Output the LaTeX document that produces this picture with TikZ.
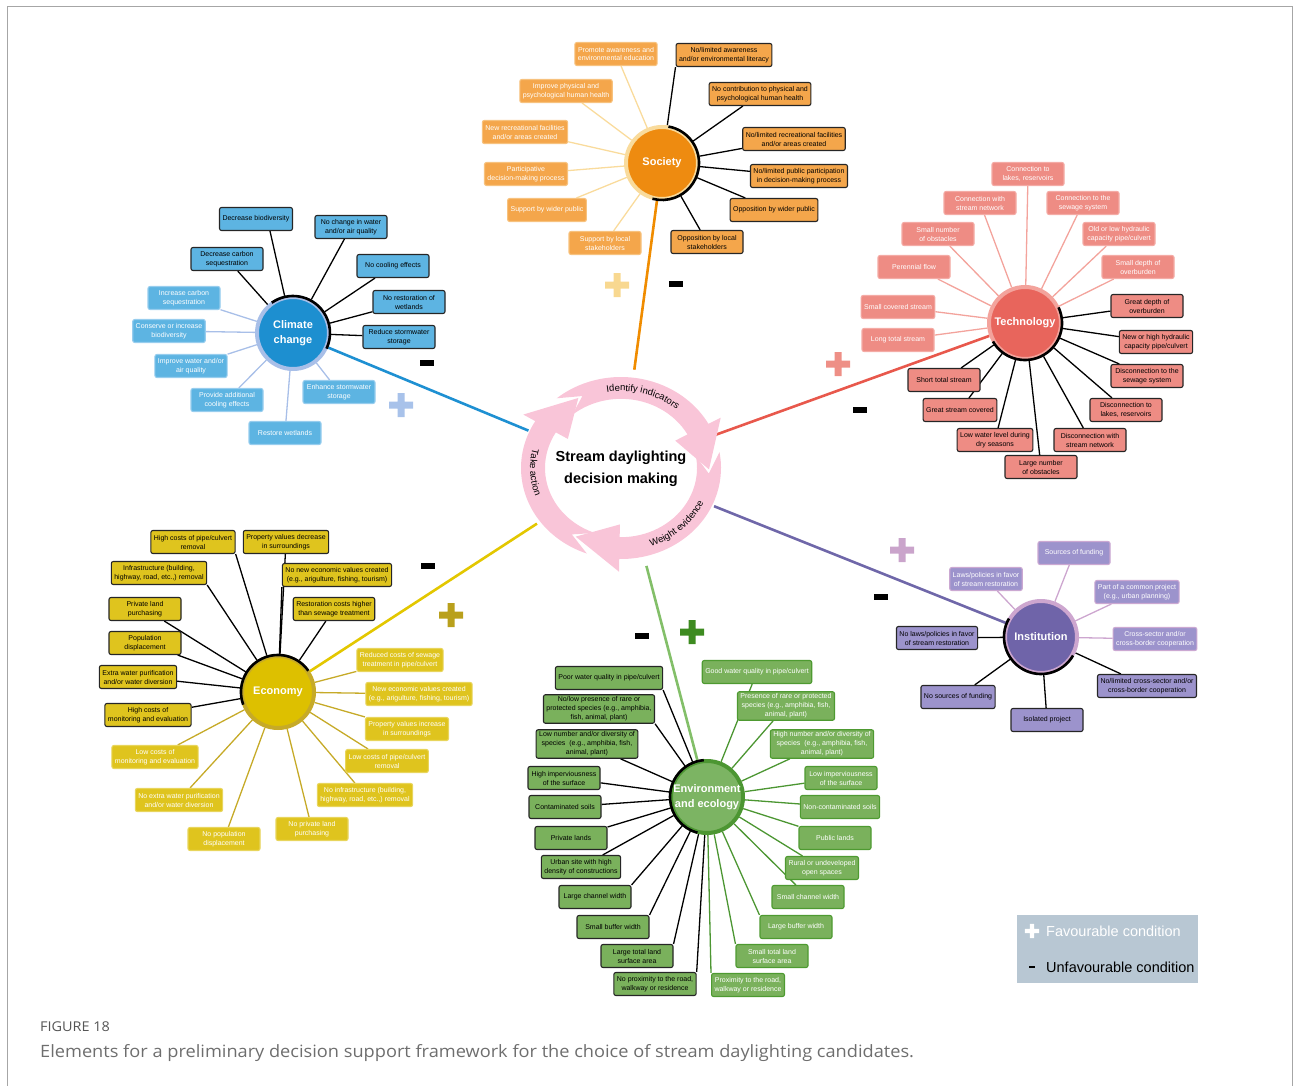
\documentclass[tikz,border=0pt]{standalone}
\usepackage{fontspec}
\setmainfont{Liberation Sans}
\newfontfamily\figcapfont[FakeStretch=1.07]{Open Sans}
\usetikzlibrary{decorations.text, backgrounds}

\definecolor{socHub}{HTML}{EE8B10}\definecolor{socBox}{HTML}{F4A64B}\definecolor{socEdge}{HTML}{F7C27E}
\definecolor{socRing}{HTML}{F9DB9C}\definecolor{socLink}{HTML}{F08C00}\definecolor{socPlus}{HTML}{F8D890}
\definecolor{cliHub}{HTML}{1D8FD0}\definecolor{cliBox}{HTML}{5DB4E2}\definecolor{cliEdge}{HTML}{97CDEE}
\definecolor{cliRing}{HTML}{A8BFE8}\definecolor{cliLink}{HTML}{1E90D2}\definecolor{cliPlus}{HTML}{A8C2EA}
\definecolor{tecHub}{HTML}{E8655C}\definecolor{tecBox}{HTML}{EE8C84}\definecolor{tecEdge}{HTML}{F4ABA5}
\definecolor{tecRing}{HTML}{F3A39C}\definecolor{tecLink}{HTML}{E8584C}\definecolor{tecPlus}{HTML}{EE8F86}
\definecolor{ecoHub}{HTML}{DDC000}\definecolor{ecoBox}{HTML}{DFC41E}\definecolor{ecoEdge}{HTML}{E8D55C}
\definecolor{ecoRing}{HTML}{C6AA28}\definecolor{ecoLink}{HTML}{E3C700}\definecolor{ecoPlus}{HTML}{B9A01C}
\definecolor{envHub}{HTML}{7CB463}\definecolor{envBox}{HTML}{7AB15C}\definecolor{envEdge}{HTML}{4E9A31}
\definecolor{envRing}{HTML}{4C9632}\definecolor{envLink}{HTML}{83BF69}\definecolor{envPlus}{HTML}{3D8B20}
\definecolor{insHub}{HTML}{6F64A9}\definecolor{insBox}{HTML}{9C93CC}\definecolor{insEdge}{HTML}{CBA8D2}
\definecolor{insRing}{HTML}{CDA6CF}\definecolor{insLink}{HTML}{6F67A9}\definecolor{insPlus}{HTML}{CAA4CB}
\definecolor{cyclePink}{HTML}{F9C5D8}
\definecolor{legendFill}{HTML}{B8C7D3}
\definecolor{capGrey}{HTML}{555555}

\begin{document}
\begin{tikzpicture}[x=1pt,y=1pt,
  itembox/.style={rectangle, rounded corners=2pt, line width=1.1pt, minimum width=72pt, minimum height=23pt,
    inner xsep=3pt, inner ysep=2pt, align=center, font=\fontsize{7}{9}\selectfont},
  favbox/.style={itembox, fill=#1Box, draw=#1Edge, text=white},
  unfavbox/.style={itembox, fill=#1Box, draw=black!85, text=black},
  hub/.style={circle, fill=#1Hub, draw=#1Ring, line width=4pt, minimum size=72pt, inner sep=0pt,
    align=center, text=white, font=\bfseries\fontsize{11}{15}\selectfont},
  favline/.style={draw=#1Ring, line width=1.3pt},
  unfavline/.style={draw=black, line width=1.3pt},
  negarc/.style={draw=black, line width=2.6pt},
  mainlink/.style={draw=#1Link, line width=2.6pt},
  cycletext/.style={decorate, decoration={text along path, text align=center, text={|\fontsize{9.5}{10}\selectfont|#1}}},
  plussign/.pic={\fill (-12,-3.5) rectangle (12,3.5) (-3.5,-12) rectangle (3.5,12);},
  minussign/.pic={\fill (-7,-3) rectangle (7,3);}]
\useasboundingbox (0,0) rectangle (1293,-1086);
\draw[black!35, line width=1pt] (7,-1086) -- (7,-7) -- (1292,-7) -- (1292,-1086);

% centre
\node[circle, minimum size=200pt, align=center, font=\bfseries\fontsize{14.5}{22}\selectfont] (cyc) at (621,-469) {Stream daylighting\\decision making};

% society
\node[hub=soc] (soc) at (662,-163) {Society};
\node[favbox=soc] (sp1) at (616,-54) {Promote awareness and\\environmental education};
\node[favbox=soc] (sp2) at (566,-91) {Improve physical and\\psychological human health};
\node[favbox=soc] (sp3) at (525,-132) {New recreational facilities\\and/or areas created};
\node[favbox=soc] (sp4) at (526,-174) {Participative\\decision-making process};
\node[favbox=soc] (sp5) at (547,-210) {Support by wider public};
\node[favbox=soc] (sp6) at (605,-243) {Support by local\\stakeholders};
\node[unfavbox=soc] (sn1) at (724,-55) {No/limited awareness\\and/or environmental literacy};
\node[unfavbox=soc] (sn2) at (760,-94) {No contribution to physical and\\psychological human health};
\node[unfavbox=soc] (sn3) at (794,-139) {No/limited recreational facilities\\and/or areas created};
\node[unfavbox=soc] (sn4) at (799,-176) {No/limited public participation\\in decision-making process};
\node[unfavbox=soc] (sn5) at (774,-210) {Opposition by wider public};
\node[unfavbox=soc] (sn6) at (707,-242) {Opposition by local\\stakeholders};

% climate change
\node[hub=cli] (cli) at (293,-333) {Climate\\change};
\node[unfavbox=cli] (cn1) at (256,-219) {Decrease biodiversity};
\node[unfavbox=cli] (cn2) at (227,-259) {Decrease carbon\\sequestration};
\node[unfavbox=cli] (cn3) at (351,-227) {No change in water\\and/or air quality};
\node[unfavbox=cli] (cn4) at (393,-266) {No cooling effects};
\node[unfavbox=cli] (cn5) at (409,-302) {No restoration of\\wetlands};
\node[unfavbox=cli] (cn6) at (399,-337) {Reduce stormwater\\storage};
\node[favbox=cli] (cp1) at (184,-298) {Increase carbon\\sequestration};
\node[favbox=cli] (cp2) at (169,-331) {Conserve or increase\\biodiversity};
\node[favbox=cli] (cp3) at (191,-366) {Improve water and/or\\air quality};
\node[favbox=cli] (cp4) at (227,-400) {Provide additional\\cooling effects};
\node[favbox=cli] (cp5) at (285,-433) {Restore wetlands};
\node[favbox=cli] (cp6) at (339,-392) {Enhance stormwater\\storage};

% technology
\node[hub=tec] (tec) at (1025,-323) {Technology};
\node[favbox=tec] (tp1) at (1028,-174) {Connection to\\lakes, reservoirs};
\node[favbox=tec] (tp2) at (980,-203) {Connection with\\stream network};
\node[favbox=tec] (tp3) at (1083,-203) {Connection to the\\sewage system};
\node[favbox=tec] (tp4) at (938,-234) {Small number\\of obstacles};
\node[favbox=tec] (tp5) at (1119,-234) {Old or low hydraulic\\capacity pipe/culvert};
\node[favbox=tec] (tp6) at (914,-267) {Perennial flow};
\node[favbox=tec] (tp7) at (1138,-267) {Small depth of\\overburden};
\node[favbox=tec] (tp8) at (898,-307) {Small covered stream};
\node[favbox=tec] (tp9) at (898,-340) {Long total stream};
\node[unfavbox=tec] (tn1) at (1147,-306) {Great depth of\\overburden};
\node[unfavbox=tec] (tn2) at (1156,-342) {New or high hydraulic\\capacity pipe/culvert};
\node[unfavbox=tec] (tn3) at (1147,-376) {Disconnection to the\\sewage system};
\node[unfavbox=tec] (tn4) at (1126,-410) {Disconnection to\\lakes, reservoirs};
\node[unfavbox=tec] (tn5) at (1090,-440) {Disconnection with\\stream network};
\node[unfavbox=tec] (tn6) at (1041,-467) {Large number\\of obstacles};
\node[unfavbox=tec] (tn7) at (995,-440) {Low water level during\\dry seasons};
\node[unfavbox=tec] (tn8) at (960,-410) {Great stream covered};
\node[unfavbox=tec] (tn9) at (944,-380) {Short total stream};

% economy
\node[hub=eco] (eco) at (278,-692) {Economy};
\node[unfavbox=eco] (en1) at (193,-542) {High costs of pipe/culvert\\removal};
\node[unfavbox=eco] (en2) at (286,-542) {Property values decrease\\in surroundings};
\node[unfavbox=eco] (en3) at (159,-573) {Infrastructure (building,\\highway, road, etc.,) removal};
\node[unfavbox=eco] (en4) at (337,-575) {No new economic values created\\(e.g., arigulture, fishing, tourism)};
\node[unfavbox=eco] (en5) at (145,-609) {Private land\\purchasing};
\node[unfavbox=eco] (en6) at (334,-609) {Restoration costs higher\\than sewage treatment};
\node[unfavbox=eco] (en7) at (145,-643) {Population\\displacement};
\node[unfavbox=eco] (en8) at (138,-677) {Extra water purification\\and/or water diversion};
\node[unfavbox=eco] (en9) at (148,-715) {High costs of\\monitoring and evaluation};
\node[favbox=eco] (ep1) at (400,-660) {Reduced costs of sewage\\treatment in pipe/culvert};
\node[favbox=eco] (ep2) at (419,-694) {New economic values created\\(e.g., arigulture, fishing, tourism)};
\node[favbox=eco] (ep3) at (407,-729) {Property values increase\\in surroundings};
\node[favbox=eco] (ep4) at (387,-761) {Low costs of pipe/culvert\\removal};
\node[favbox=eco] (ep5) at (365,-795) {No infrastructure (building,\\highway, road, etc.,) removal};
\node[favbox=eco] (ep6) at (312,-829) {No private land\\purchasing};
\node[favbox=eco] (ep7) at (224,-839) {No population\\displacement};
\node[favbox=eco] (ep8) at (179,-800) {No extra water purification\\and/or water diversion};
\node[favbox=eco] (ep9) at (155,-757) {Low costs of\\monitoring and evaluation};

% environment and ecology
\node[hub=env] (env) at (707,-797) {Environment\\and ecology};
\node[unfavbox=env] (vn1) at (609,-678) {Poor water quality in pipe/culvert};
\node[unfavbox=env] (vn2) at (599,-709) {No/low presence of rare or\\protected species (e.g., amphibia,\\fish, animal, plant)};
\node[unfavbox=env] (vn3) at (587,-744) {Low number and/or diversity of\\species\ \ (e.g., amphibia, fish,\\animal, plant)};
\node[unfavbox=env] (vn4) at (564,-778) {High imperviousness\\of the surface};
\node[unfavbox=env] (vn5) at (565,-807) {Contaminated soils};
\node[unfavbox=env] (vn6) at (571,-838) {Private lands};
\node[unfavbox=env] (vn7) at (581,-867) {Urban site with high\\density of constructions};
\node[unfavbox=env] (vn8) at (595,-897) {Large channel width};
\node[unfavbox=env] (vn9) at (613,-927) {Small buffer width};
\node[unfavbox=env] (vn10) at (637,-956) {Large total land\\surface area};
\node[unfavbox=env] (vn11) at (655,-984) {No proximity to the road,\\walkway or residence};
\node[favbox=env] (vp1) at (757,-672) {Good water quality in pipe/culvert};
\node[favbox=env] (vp2) at (786,-706) {Presence of rare or protected\\species (e.g., amphibia, fish,\\animal, plant)};
\node[favbox=env] (vp3) at (822,-744) {High number and/or diversity of\\species\ \ (e.g., amphibia, fish,\\animal, plant)};
\node[favbox=env] (vp4) at (841,-778) {Low imperviousness\\of the surface};
\node[favbox=env] (vp5) at (840,-807) {Non-contaminated soils};
\node[favbox=env] (vp6) at (835,-838) {Public lands};
\node[favbox=env] (vp7) at (822,-868) {Rural or undeveloped\\open spaces};
\node[favbox=env] (vp8) at (808,-897) {Small channel width};
\node[favbox=env] (vp9) at (796,-927) {Large buffer width};
\node[favbox=env] (vp10) at (772,-956) {Small total land\\surface area};
\node[favbox=env] (vp11) at (748,-985) {Proximity to the road,\\walkway or residence};

% institution
\node[hub=ins] (ins) at (1041,-637) {Institution};
\node[favbox=ins] (ip1) at (1074,-553) {Sources of funding};
\node[favbox=ins] (ip2) at (986,-579) {Laws/policies in favor\\of stream restoration};
\node[favbox=ins] (ip3) at (1137,-592) {Part of a common project\\(e.g., urban planning)};
\node[favbox=ins] (ip4) at (1155,-639) {Cross-sector and/or\\cross-border cooperation};
\node[unfavbox=ins] (in1) at (937,-638) {No laws/policies in favor\\of stream restoration};
\node[unfavbox=ins] (in2) at (1147,-686) {No/limited cross-sector and/or\\cross-border cooperation};
\node[unfavbox=ins] (in3) at (958,-697) {No sources of funding};
\node[unfavbox=ins] (in4) at (1047,-720) {Isolated project};

% black part of each hub ring
\draw[negarc] (soc) ++(80:37) arc[start angle=80, end angle=-105, radius=37];
\draw[negarc] (cli) ++(125:37) arc[start angle=125, end angle=-25, radius=37];
\draw[negarc] (tec) ++(25:37) arc[start angle=25, end angle=-150, radius=37];
\draw[negarc] (eco) ++(200:37) arc[start angle=200, end angle=35, radius=37];
\draw[negarc] (env) ++(95:37) arc[start angle=95, end angle=255, radius=37];
\draw[negarc] (ins) ++(150:37) arc[start angle=150, end angle=330, radius=37];

\begin{scope}[on background layer]
% spokes
\path[favline=soc] (soc) edge (sp1) edge (sp2) edge (sp3) edge (sp4) edge (sp5) edge (sp6);
\path[unfavline] (soc) edge (sn1.south west) edge (sn2) edge (sn3) edge (sn4) edge (sn5) edge (sn6);
\path[favline=cli] (cli) edge (cp1) edge (cp2) edge (cp3) edge (cp4) edge (cp5) edge (cp6);
\path[unfavline] (cli) edge ([xshift=14pt]cn1.south) edge (cn2) edge (cn3) edge (cn4) edge (cn5) edge (cn6);
\path[favline=tec] (tec) edge (tp1) edge (tp2) edge (tp3) edge (tp4) edge (tp5) edge (tp6) edge (tp7) edge (tp8) edge (tp9);
\path[unfavline] (tec) edge (tn1) edge (tn2) edge (tn3) edge (tn4) edge (tn5) edge (tn6) edge (tn7) edge (tn8) edge (tn9);
\path[favline=eco] (eco) edge (ep1) edge (ep2) edge (ep3) edge (ep4) edge (ep5) edge (ep6) edge (ep7) edge (ep8) edge (ep9);
\path[unfavline] (eco) edge (en1.south east) edge (en2) edge (en3.south east) edge (en4.south west) edge (en5) edge (en6) edge (en7) edge (en8) edge (en9);
\path[favline=env] (env) edge (vp1) edge (vp2) edge (vp3) edge (vp4) edge (vp5) edge (vp6) edge (vp7) edge (vp8)
  edge (vp9.north west) edge (vp10.north west) edge (vp11.north west);
\path[unfavline] (env) edge (vn1.south east) edge (vn2.south east) edge (vn3) edge (vn4) edge (vn5) edge (vn6) edge (vn7)
  edge (vn8.north east) edge (vn9.north east) edge (vn10.north east) edge (vn11.north east);
\path[favline=ins] (ins) edge (ip1) edge (ip2) edge (ip3) edge (ip4);
\path[unfavline] (ins) edge (in1) edge (in2) edge (in3) edge (in4);

% links from the cycle to the hubs
\draw[mainlink=soc] (cyc) -- (soc);
\draw[mainlink=cli] (cyc) -- (cli);
\draw[mainlink=tec] (cyc) -- (tec);
\draw[mainlink=eco] (cyc) -- (eco);
\draw[mainlink=env] (cyc) -- (env);
\draw[mainlink=ins] (cyc) -- (ins);
\end{scope}

% cycle arrows
\begin{scope}[shift={(621,-468)}, yscale=0.91]
  \foreach \b in {29,-91,-211}
    \fill[cyclePink] ({\b+101}:100) arc[start angle={\b+101}, end angle=\b, radius=100]
      -- (\b:114) -- ({\b-30}:88) -- (\b:62) -- (\b:76)
      arc[start angle=\b, end angle={\b+101}, radius=76] -- ({\b+87}:88) -- cycle;
\end{scope}
\path[cycletext={Identify indicators}] (621,-468) ++(115:85 and 77) arc[start angle=115, end angle=33, x radius=85, y radius=77];
\path[cycletext={Weight evidence}] (621,-468) ++(-87:91 and 83) arc[start angle=-87, end angle=-7, x radius=91, y radius=83];
\path[cycletext={Take action}] (621,-468) ++(148:91 and 83) arc[start angle=148, end angle=218, x radius=91, y radius=83];

% plus and minus signs
\pic[socPlus] at (617,-285) {plussign};  \pic[black] at (676,-284) {minussign};
\pic[cliPlus] at (401,-405) {plussign};  \pic[black] at (427,-363) {minussign};
\pic[tecPlus] at (838,-364) {plussign};  \pic[black] at (860,-410) {minussign};
\pic[ecoPlus] at (451,-615) {plussign};  \pic[black] at (428,-566) {minussign};
\pic[envPlus] at (692,-632) {plussign};  \pic[black] at (642,-636) {minussign};
\pic[insPlus] at (902,-550) {plussign};  \pic[black] at (881,-597) {minussign};

% legend
\node[fill=legendFill, minimum width=181pt, minimum height=68pt, anchor=north west] (legend) at (1017,-915) {};
\pic[white, scale=0.6] at (1032,-931) {plussign};
\pic[black, scale=0.45] at (1032,-967) {minussign};
\node[anchor=west, text=white, font=\fontsize{14.5}{14.5}\selectfont, inner xsep=0pt] (favtext) at (1046,-931) {Favourable condition};
\node[anchor=west, text=black, font=\fontsize{14.5}{14.5}\selectfont, inner xsep=0pt] (unfavtext) at (1046,-967) {Unfavourable condition};

% caption
\node[anchor=west, text=capGrey, font=\figcapfont\fontsize{13.5}{13.5}\selectfont, inner xsep=0pt] (figlabel) at (40,-1027) {FIGURE 18};
\node[anchor=west, text=capGrey!85, font=\figcapfont\fontsize{17}{17}\selectfont, inner xsep=0pt] (figcaption) at (40,-1053) {Elements for a preliminary decision support framework for the choice of stream daylighting candidates.};
\end{tikzpicture}
\end{document}
